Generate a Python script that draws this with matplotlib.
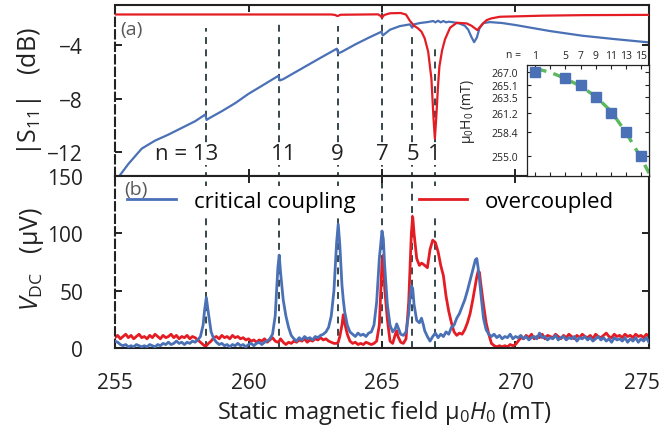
import matplotlib
matplotlib.use('Agg')
import matplotlib.pyplot as plt
from matplotlib.lines import Line2D
from matplotlib.transforms import ScaledTranslation

plt.rcParams['font.family'] = ['Open Sans', 'DejaVu Sans']
plt.rcParams['mathtext.fontset'] = 'custom'
plt.rcParams['mathtext.rm'] = 'Open Sans'
plt.rcParams['mathtext.it'] = 'Open Sans:italic'
plt.rcParams['mathtext.bf'] = 'Open Sans:bold'

# ---------------- data ----------------
# (a) |S11| traces
s11_crit_field = [255.0, 255.2, 255.5, 256.0, 256.5, 257.0, 257.5, 258.0, 258.38, 258.43, 258.55,
                  259.0, 259.5, 260.0, 260.5, 261.12, 261.17, 261.3, 262.0, 262.7, 263.31, 263.36,
                  263.5, 264.0, 264.5, 264.98, 265.03, 265.3, 265.67, 266.05, 266.13, 266.2, 266.42,
                  266.7, 266.92, 267.0, 267.1, 267.2, 267.3, 267.4, 267.5, 267.7, 267.92, 268.1,
                  268.23, 268.35, 268.45, 268.55, 268.65, 268.8, 269.04, 269.5, 270.0, 271.29,
                  272.5, 273.7, 275.0]
s11_crit = [-14.4, -13.7, -12.9, -11.75, -11.15, -10.7, -10.2, -9.7, -9.2, -9.6, -9.45,
            -8.95, -8.35, -7.65, -7.05, -6.3, -6.65, -6.55, -5.75, -4.95, -4.27, -4.62,
            -4.5, -3.95, -3.45, -3.0, -3.28, -2.85, -2.58, -2.45, -2.7, -2.45, -2.35,
            -2.28, -2.2, -2.3, -2.18, -2.3, -2.2, -2.3, -2.25, -2.3, -2.4, -2.55,
            -2.85, -3.4, -3.78, -3.45, -2.75, -2.35, -2.28, -2.35, -2.5, -2.95,
            -3.3, -3.55, -3.8]

s11_over_field = [255.0, 263.1, 263.25, 263.33, 263.45, 264.85, 264.95, 265.0, 265.08, 265.3,
                  265.7, 265.9, 266.05, 266.2, 266.35, 266.48, 266.6, 266.73, 266.85, 266.93,
                  266.98, 267.03, 267.1, 267.15, 267.25, 267.36, 267.55, 267.8, 268.17, 268.35,
                  268.57, 268.75, 268.92, 269.1, 269.42, 270.04, 271.0, 272.5, 275.0]
s11_over = [-1.71, -1.71, -1.75, -1.83, -1.73, -1.7, -1.82, -1.95, -1.75, -1.62,
            -1.6, -1.72, -2.2, -2.55, -2.75, -3.0, -3.5, -4.5, -6.5, -9.5,
            -11.0, -9.5, -7.0, -5.6, -4.4, -3.57, -2.7, -2.33, -2.38, -2.55,
            -2.88, -2.45, -2.13, -2.0, -1.88, -1.85, -1.8, -1.76, -1.74]

# (b) V_DC traces (common field sampling)
vdc_field = [
    255.0, 255.1, 255.2, 255.3, 255.4, 255.5, 255.6, 255.7, 255.8, 255.9,
    256.0, 256.1, 256.2, 256.3, 256.4, 256.5, 256.6, 256.7, 256.8, 256.9,
    257.0, 257.1, 257.2, 257.3, 257.4, 257.5, 257.6, 257.7, 257.8, 257.9,
    258.0, 258.1, 258.2, 258.3, 258.35, 258.42, 258.5, 258.6, 258.7, 258.8, 258.9,
    259.0, 259.1, 259.2, 259.3, 259.4, 259.5, 259.6, 259.7, 259.8, 259.9,
    260.0, 260.1, 260.2, 260.3, 260.4, 260.5, 260.6, 260.7, 260.8, 260.9,
    261.0, 261.1, 261.15, 261.2, 261.3, 261.4, 261.5, 261.6, 261.7, 261.8, 261.9,
    262.0, 262.1, 262.2, 262.3, 262.4, 262.5, 262.6, 262.7, 262.8, 262.9,
    263.0, 263.1, 263.2, 263.3, 263.36, 263.42, 263.5, 263.55, 263.6, 263.7, 263.8, 263.9,
    264.0, 264.1, 264.2, 264.3, 264.4, 264.5, 264.6, 264.7, 264.8, 264.9,
    265.0, 265.05, 265.1, 265.2, 265.3, 265.4, 265.5, 265.55, 265.6, 265.7, 265.8, 265.9,
    266.0, 266.05, 266.1, 266.15, 266.2, 266.3, 266.4, 266.48, 266.55, 266.6, 266.7, 266.8, 266.9,
    267.0, 267.1, 267.2, 267.3, 267.4, 267.5, 267.6, 267.7, 267.8, 267.9,
    268.0, 268.1, 268.2, 268.3, 268.4, 268.5, 268.55, 268.6, 268.65, 268.7, 268.8, 268.9,
    269.0, 269.1, 269.2, 269.3, 269.4, 269.5, 269.6, 269.7, 269.8, 269.9,
    270.0, 270.1, 270.2, 270.3, 270.4, 270.5, 270.6, 270.7, 270.8, 270.9,
    271.0, 271.1, 271.2, 271.3, 271.4, 271.5, 271.6, 271.7, 271.8, 271.9,
    272.0, 272.1, 272.2, 272.3, 272.4, 272.5, 272.6, 272.7, 272.8, 272.9,
    273.0, 273.1, 273.2, 273.3, 273.4, 273.5, 273.6, 273.7, 273.8, 273.9,
    274.0, 274.1, 274.2, 274.3, 274.4, 274.5, 274.6, 274.7, 274.8, 274.9,
    275.0]

vdc_crit = [
    6, 5, 3, 2, 3, 1, 2, 1, 3, 2,
    1, 2, 1, 3, 2, 1, 3, 2, 4, 3,
    5, 3, 4, 6, 4, 5, 3, 5, 4, 6,
    5, 7, 10, 20, 32, 44, 30, 14, 8, 5, 3,
    4, 2, 3, 1, 3, 2, 4, 2, 3, 1,
    3, 4, 2, 4, 5, 3, 5, 6, 8, 12,
    28, 70, 81, 66, 42, 28, 18, 11, 8, 6, 9,
    7, 10, 8, 9, 7, 10, 9, 11, 12, 14,
    18, 28, 50, 92, 108, 90, 55, 42, 32, 20, 14, 12,
    10, 13, 11, 12, 10, 13, 14, 20, 40, 78,
    102, 95, 72, 38, 20, 14, 17, 21, 18, 12, 11, 14,
    30, 44, 54, 52, 38, 24, 22, 26, 20, 15, 10, 6, 10,
    13, 9, 12, 10, 14, 12, 18, 20, 26, 30,
    36, 42, 50, 59, 68, 77, 78, 70, 60, 48, 26, 16,
    12, 10, 12, 9, 11, 8, 10, 9, 12, 8,
    10, 9, 11, 8, 10, 7, 9, 10, 8, 13,
    9, 10, 7, 9, 8, 11, 7, 9, 10, 7,
    9, 8, 10, 6, 9, 8, 10, 7, 9, 6,
    8, 10, 7, 9, 6, 8, 5, 9, 7, 8,
    6, 9, 5, 8, 6, 9, 5, 8, 6, 9,
    5]

vdc_over = [
    9, 11, 8, 10, 12, 9, 11, 8, 10, 12,
    9, 10, 8, 11, 9, 12, 10, 8, 11, 9,
    10, 12, 9, 11, 8, 10, 9, 11, 8, 10,
    9, 7, 5, 3, 2, 2, 4, 6, 9, 10, 8,
    11, 9, 10, 8, 11, 9, 10, 8, 9, 7,
    8, 6, 7, 5, 7, 6, 8, 5, 7, 9,
    6, 5, 6, 8, 5, 3, 5, 4, 6, 5, 7,
    6, 8, 5, 7, 6, 8, 7, 9, 7, 8,
    6, 5, 4, 4, 5, 10, 20, 29, 22, 12, 6, 4,
    5, 3, 4, 3, 5, 4, 3, 4, 6, 20,
    75, 81, 52, 25, 6, 4, 12, 15, 10, 5, 4, 8,
    40, 70, 100, 115, 100, 78, 72, 74, 73, 72, 70, 86, 94,
    92, 84, 72, 63, 45, 32, 22, 14, 11, 13,
    12, 16, 22, 30, 42, 55, 62, 67, 66, 56, 38, 22,
    12, 4, 2, 1, 2, 1, 2, 1, 3, 2,
    3, 6, 9, 8, 11, 9, 12, 8, 10, 9,
    12, 8, 11, 10, 9, 12, 10, 8, 11, 9,
    12, 10, 8, 11, 9, 12, 10, 9, 11, 8,
    12, 10, 9, 11, 13, 10, 9, 12, 10, 11,
    9, 12, 10, 11, 9, 12, 10, 11, 9, 12,
    10]

# resonance markers
res_fields = [258.4, 261.15, 263.35, 265.0, 266.13, 266.97]
res_tops = [-2.75, -2.45, -2.6, -1.0, -3.3, -4.0]
res_labels = ['n = 13', '11', '9', '7', '5', '1']
res_label_x = [257.68, 261.33, 263.34, 265.03, 266.15, 266.96]

# inset
inset_n = [1, 5, 7, 9, 11, 13, 15]
inset_H = [267.0, 266.2, 265.1, 263.5, 261.2, 258.4, 255.0]
fit_n = [1.0, 3, 5, 7, 9, 11, 13, 15, 16]
fit_H = [267.55, 267.0, 266.1, 265.0, 263.5, 261.4, 258.3, 254.6, 252.5]
inset_yticks = [255.0, 258.4, 261.2, 263.5, 265.1, 267.0]
inset_xticks = [1, 3, 5, 7, 9, 11, 13, 15]
inset_xticklabels = ['1', '', '5', '7', '9', '11', '13', '15']

# ---------------- style ----------------
BLUE = '#4a70b6'
RED = '#e41c24'
GREEN = '#5cb85c'
DASHC = '#27393b'
GRAY = '#595959'
TXT = '#222222'
DASH = (0, (3.8, 3.0))

fig = plt.figure(figsize=(6.64, 4.31), dpi=100)
ax1 = fig.add_axes([0.1732, 0.5893, 0.8042, 0.3968])
ax2 = fig.add_axes([0.1732, 0.1903, 0.8042, 0.3991])

for ax in (ax1, ax2):
    for s in ax.spines.values():
        s.set_linewidth(1.5)
        s.set_color(TXT)
    ax.spines['left'].set_linestyle((0, (4, 2)))
    ax.set_xlim(255, 275)
    ax.set_xticks([255, 260, 265, 270, 275])
    ax.tick_params(direction='in', top=True, right=True, length=5, width=1.4,
                   labelsize=15, colors=TXT, labelcolor=TXT)
    ax.tick_params(axis='y', pad=23)
    ax.tick_params(axis='x', pad=17)

# ---- panel (a)
ax1.vlines(res_fields, -14, res_tops, colors=DASHC, linestyles=DASH, lw=1.3, zorder=1)
ax1.plot(s11_crit_field, s11_crit, color=BLUE, lw=1.6, zorder=2)
ax1.plot(s11_over_field, s11_over, color=RED, lw=1.6, zorder=3)
ax1.set_ylim(-13.8, -1.0)
ax1.set_yticks([-4, -8, -12])
ax1.tick_params(labelbottom=False)
ax1.set_ylabel(r'|S$_{11}$|   (dB)', fontsize=18, color=TXT)
ax1.yaxis.set_label_coords(-0.16, 0.5)
ax1.yaxis.label.set_va('center')
ax1.text(0.009, 0.86, '(a)', transform=ax1.transAxes, fontsize=14, color=GRAY,
         ha='left', va='center')
for lx, lab in zip(res_label_x, res_labels):
    ax1.text(lx, -12.15, lab, fontsize=16, color=TXT, ha='center', va='center',
             zorder=4, bbox=dict(facecolor='white', edgecolor='none', pad=0.5))

# ---- panel (b)
ax2.vlines(res_fields, 0, 150, colors=DASHC, linestyles=DASH, lw=1.3, zorder=1)
ax2.plot(vdc_field, vdc_over, color=RED, lw=2.0, zorder=2)
ax2.plot(vdc_field, vdc_crit, color=BLUE, lw=2.0, zorder=3)
ax2.set_ylim(0, 150)
ax2.set_yticks([0, 50, 100, 150])
ax2.set_ylabel(r'$V_{\mathrm{DC}}$   (μV)', fontsize=18, color=TXT)
ax2.yaxis.set_label_coords(-0.155, 0.52)
ax2.yaxis.label.set_va('center')
ax2.set_xlabel(r'Static magnetic field μ$_0$$H_0$ (mT)', fontsize=17, color=TXT)
ax2.xaxis.set_label_coords(0.504, -0.375)
ax2.xaxis.label.set_va('center')
ax2.text(0.017, 0.925, '(b)', transform=ax2.transAxes, fontsize=14, color=GRAY,
         ha='left', va='center', zorder=6)

# nudge last x tick label inside the canvas
fig.canvas.draw()
last = ax2.get_xticklabels()[-1]
last.set_transform(last.get_transform() + ScaledTranslation(-5 / 72, 0, fig.dpi_scale_trans))

legkw = dict(frameon=True, facecolor='white', edgecolor='none', framealpha=1.0,
             fontsize=16, handlelength=2.2, handletextpad=0.8, borderpad=0.25,
             borderaxespad=0, loc='center left')
leg1 = ax2.legend([Line2D([], [], color=BLUE, lw=2.0)], ['critical coupling'],
                  bbox_to_anchor=(0.012, 0.85), **legkw)
leg1.set_zorder(5)
ax2.add_artist(leg1)
leg2 = ax2.legend([Line2D([], [], color=RED, lw=2.0)], ['overcoupled'],
                  bbox_to_anchor=(0.558, 0.85), **legkw)
leg2.set_zorder(5)

# ---- inset
axi = fig.add_axes([0.7944, 0.5893, 0.1830, 0.2576])
axi.plot(fit_n, fit_H, color=GREEN, lw=2.4, ls=(0, (3.5, 2.2)), zorder=2)
axi.plot(inset_n, inset_H, 's', color=BLUE, ms=7.5, zorder=3)
axi.set_xlim(0, 16)
axi.set_ylim(252.08, 268.05)
axi.set_yticks(inset_yticks)
axi.set_yticklabels(['%.1f' % v for v in inset_yticks])
axi.set_xticks(inset_xticks)
axi.set_xticklabels(inset_xticklabels)
axi.tick_params(direction='in', top=True, right=True, labeltop=True, labelbottom=False,
                labelsize=7.5, length=3, width=0.8, colors=TXT)
axi.tick_params(axis='y', pad=7)
axi.tick_params(axis='x', pad=3)
for s in axi.spines.values():
    s.set_linewidth(0.9)
    s.set_color(TXT)
axi.set_ylabel(r'μ$_0$H$_0$ (mT)', fontsize=10, color=TXT)
axi.yaxis.set_label_coords(-0.49, 0.585)
axi.yaxis.label.set_va('center')
axi.text(-0.05, 1.095, 'n =', transform=axi.transAxes, fontsize=7.5, color=TXT,
         ha='right', va='center')

fig.savefig('out.png', dpi=100)
